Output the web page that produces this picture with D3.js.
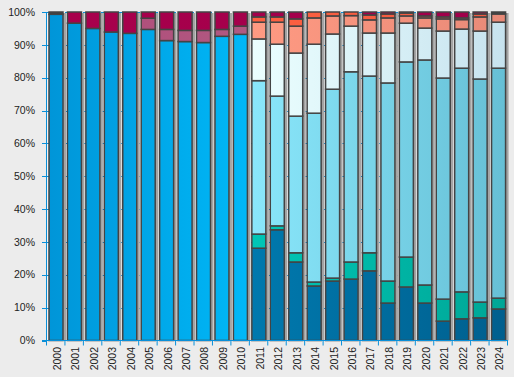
<!DOCTYPE html>
<html>
<head>
<meta charset="utf-8">
<script src="https://cdn.jsdelivr.net/npm/d3@7"></script>
<style>
	body { margin: 0; background: #ececec; }
	svg { display: block; font-family: 'Liberation Sans', Arial, sans-serif; }
</style>
</head>
<body>
<svg id="chart" width="514" height="377"></svg>
<script>
const years = ['2000', '2001', '2002', '2003', '2004', '2005', '2006', '2007', '2008', '2009', '2010', '2011', '2012',
	'2013', '2014', '2015', '2016', '2017', '2018', '2019', '2020', '2021', '2022', '2023', '2024']

// shares per year, bottom to top
const darkBlue = [0, 0, 0, 0, 0, 0, 0, 0, 0, 0, 0, 28.1, 33.7, 23.9, 16.6, 18.1, 18.7, 21.2, 11.4, 16.3, 11.4, 5.9, 6.6, 6.9, 9.6]
const teal = [0, 0, 0, 0, 0, 0, 0, 0, 0, 0, 0, 4.3, 1.2, 2.8, 1.2, 0.9, 5.2, 5.5, 6.7, 9.1, 5.5, 6.7, 8.2, 4.8, 3.3]
const mainBlue = [99.3, 96.6, 95.0, 93.9, 93.5, 94.7, 91.3, 91.0, 90.7, 92.6, 93.2, 0, 0, 0, 0, 0, 0, 0, 0, 0, 0, 0, 0, 0, 0]
const lightCyan = [0, 0, 0, 0, 0, 0, 0, 0, 0, 0, 0, 46.7, 39.5, 41.6, 51.4, 57.5, 57.9, 53.8, 60.3, 59.4, 68.5, 67.3, 68.1, 67.9, 70.0]
const pale = [0, 0, 0, 0, 0, 0, 0, 0, 0, 0, 0, 12.7, 15.8, 19.2, 21.0, 16.8, 13.9, 13.1, 15.2, 11.8, 9.7, 14.3, 11.9, 14.6, 14.0]
const salmon = [0, 0, 0, 0, 0, 0, 0, 0, 0, 0, 0, 5.1, 6.7, 8.2, 8.0, 5.5, 3.2, 4.0, 4.6, 2.2, 3.1, 3.7, 2.9, 4.3, 2.5]
const orange = [0, 0, 0, 0, 0, 0, 0, 0, 0, 0, 0, 1.6, 1.6, 2.2, 1.8, 1.2, 1.1, 1.5, 1.2, 0.9, 0.6, 0.6, 0.5, 0.9, 0]
const mauve = [0, 0, 0, 0, 0, 3.4, 3.4, 3.4, 3.7, 2.1, 2.5, 0, 0, 0, 0, 0, 0, 0, 0, 0, 0, 0, 0, 0, 0]
const magenta = [0, 3.4, 5.0, 6.1, 6.5, 1.9, 5.3, 5.6, 5.6, 5.3, 4.3, 1.5, 1.5, 2.1, 0, 0, 0, 0.9, 0.6, 0.3, 1.2, 1.5, 1.8, 0.6, 0]
const gray = [0.7, 0, 0, 0, 0, 0, 0, 0, 0, 0, 0, 0, 0, 0, 0, 0, 0, 0, 0, 0, 0, 0, 0, 0, 0.6]

const yTicks = [0, 0.1, 0.2, 0.3, 0.4, 0.5, 0.6, 0.7, 0.8, 0.9, 1]

const series = [
	{ key: 'darkBlue', values: darkBlue, colors: ['#0079ae', '#005f8e'] },
	{ key: 'teal', values: teal, colors: ['#00c6b6', '#00a696'] },
	{ key: 'mainBlue', values: mainBlue, colors: ['#0095d8', '#00b8f8'] },
	{ key: 'lightCyan', values: lightCyan, colors: ['#8ae7fb', '#66bfd5'] },
	{ key: 'pale', values: pale, colors: ['#ecffff', '#c6e2ee'] },
	{ key: 'salmon', values: salmon, colors: ['#ff9a82', '#e88a78'] },
	{ key: 'orange', values: orange, colors: ['#ff6040', '#f05a40'] },
	{ key: 'mauve', values: mauve, colors: ['#b0507c', '#b05a82'] },
	{ key: 'magenta', values: magenta, colors: ['#a8004c', '#a0004a'] },
	{ key: 'gray', values: gray, colors: ['#404040', '#404040'] }
]

const rows = years.map((yr, i) => {
	const row = { year: yr }
	series.forEach(s => { row[s.key] = s.values[i] })
	return row
})

const plotLeft = 47
const plotRight = 508
const plotTop = 12
const plotBottom = 340.5
const axisColor = '#0a8fd8'

const svg = d3.select('#chart')

const xScale = d3.scaleBand()
	.domain(years)
	.range([plotLeft, plotRight])

const yScale = d3.scaleLinear()
	.domain([0, 1])
	.range([plotBottom, plotTop])

// plot background
svg.append('rect')
	.attr('x', plotLeft)
	.attr('y', plotTop)
	.attr('width', plotRight - plotLeft)
	.attr('height', plotBottom - plotTop)
	.attr('fill', '#f4f4f4')

// dashed grid
svg.append('g')
	.selectAll('line')
	.data(yTicks.slice(1))
	.enter()
	.append('line')
	.attr('x1', plotLeft)
	.attr('x2', plotRight)
	.attr('y1', d => Math.round(yScale(d)) + 0.5)
	.attr('y2', d => Math.round(yScale(d)) + 0.5)
	.attr('stroke', axisColor)
	.attr('stroke-dasharray', '3,3')

// gradients, one per series over its own years
const defs = svg.append('defs')
series.forEach(s => {
	const idx = s.values.map((v, i) => (v > 0 ? i : -1)).filter(i => i >= 0)
	const grad = defs.append('linearGradient')
		.attr('id', 'g-' + s.key)
		.attr('gradientUnits', 'userSpaceOnUse')
		.attr('x1', xScale(years[idx[0]]))
		.attr('x2', xScale(years[idx[idx.length - 1]]) + xScale.bandwidth())
		.attr('y1', 0)
		.attr('y2', 0)
	grad.append('stop').attr('offset', 0).attr('stop-color', s.colors[0])
	grad.append('stop').attr('offset', 1).attr('stop-color', s.colors[1])
})

const stacked = d3.stack()
	.keys(series.map(s => s.key))
	.offset(d3.stackOffsetExpand)(rows)

const barW = 14
const barX = d => xScale(d.data.year) + 2

// bar shadows
svg.append('g')
	.selectAll('rect')
	.data(years)
	.enter()
	.append('rect')
	.attr('x', d => xScale(d) + 2 + barW)
	.attr('y', yScale(1) + 1)
	.attr('width', 3)
	.attr('height', yScale(0) - yScale(1) - 1)
	.attr('fill', '#a4a4a4')

const layer = svg.append('g')
	.selectAll('g')
	.data(stacked)
	.enter()
	.append('g')
	.attr('fill', d => 'url(#g-' + d.key + ')')

layer.selectAll('rect')
	.data(d => d.filter(p => p[1] - p[0] > 0))
	.enter()
	.append('rect')
	.attr('x', barX)
	.attr('y', d => yScale(d[1]))
	.attr('width', barW)
	.attr('height', d => yScale(d[0]) - yScale(d[1]))
	.attr('stroke', '#444')
	.attr('stroke-width', 1.5)

// axes
const yAxis = svg.append('g')
yAxis.append('line')
	.attr('x1', plotLeft - 0.5)
	.attr('x2', plotLeft - 0.5)
	.attr('y1', plotTop)
	.attr('y2', plotBottom)
	.attr('stroke', axisColor)
yAxis.selectAll('line.tick')
	.data(yTicks)
	.enter()
	.append('line')
	.attr('class', 'tick')
	.attr('x1', plotLeft - 5)
	.attr('x2', plotLeft)
	.attr('y1', d => Math.round(yScale(d)) + 0.5)
	.attr('y2', d => Math.round(yScale(d)) + 0.5)
	.attr('stroke', axisColor)
yAxis.selectAll('text')
	.data(yTicks)
	.enter()
	.append('text')
	.attr('x', 35)
	.attr('y', d => yScale(d))
	.attr('dy', '0.35em')
	.attr('text-anchor', 'end')
	.attr('font-size', '10.5px')
	.attr('fill', '#222')
	.text(d => d3.format('.0%')(d))

const xAxis = svg.append('g')
xAxis.append('line')
	.attr('x1', plotLeft - 5)
	.attr('x2', plotRight)
	.attr('y1', plotBottom)
	.attr('y2', plotBottom)
	.attr('stroke', axisColor)
xAxis.selectAll('line.tick')
	.data(years.concat(['end']))
	.enter()
	.append('line')
	.attr('class', 'tick')
	.attr('x1', d => (d === 'end' ? plotRight : xScale(d)) - 0.5)
	.attr('x2', d => (d === 'end' ? plotRight : xScale(d)) - 0.5)
	.attr('y1', plotBottom)
	.attr('y2', plotBottom + 5)
	.attr('stroke', axisColor)
xAxis.selectAll('text')
	.data(years)
	.enter()
	.append('text')
	.attr('transform', d => 'translate(' + (xScale(d) + xScale.bandwidth() / 2 + 1) + ',347) rotate(-90)')
	.attr('dy', '0.35em')
	.attr('text-anchor', 'end')
	.attr('font-size', '10.5px')
	.attr('fill', '#222')
	.text(d => d)
</script>
</body>
</html>
